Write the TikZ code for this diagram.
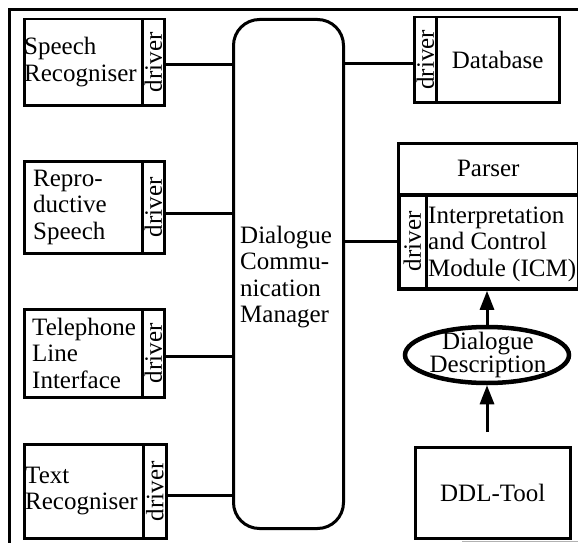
\documentclass[tikz,border=0pt]{standalone}
\usepackage{fontspec}
\setmainfont{Liberation Serif}
\usetikzlibrary{arrows.meta,calc,shapes.geometric}
\begin{document}
\begin{tikzpicture}[x=1pt,y=-1pt,
  every node/.style={font=\fontsize{25}{26.5}\selectfont},
  box/.style={draw,line width=2.5pt,anchor=north west,inner sep=0pt},
  drv/.style={draw,line width=2.5pt,anchor=north west,inner sep=0pt},
  lbl/.style={anchor=west,align=left,inner sep=0pt},
  conn/.style={line width=2.8pt},
  arr/.style={line width=3pt,-{Triangle[length=19pt,width=14pt]}}]
\useasboundingbox (0,0) rectangle (578,543);
% frame
\draw[line width=3.2pt] (9.5,543) -- (9.5,9.5) -- (578,9.5);
\draw[line width=1pt,black!30] (462,541.5) -- (578,541.5);
% left modules
\node[box,minimum width=118,minimum height=86] (sr) at (23,18) {};
\node[drv,minimum width=22,minimum height=86] (srd) at (141,18) {\rotatebox{90}{driver}};
\node[lbl] (srt) at ([xshift=1pt]sr.west) {Speech\\Recogniser};

\node[box,minimum width=118,minimum height=92] (rs) at (23,160) {};
\node[drv,minimum width=22,minimum height=92] (rsd) at (141,160) {\rotatebox{90}{driver}};
\node[lbl] (rst) at ([xshift=10pt]rs.west) {Repro-\\ductive\\Speech};

\node[box,minimum width=118,minimum height=88] (tl) at (23,308) {};
\node[drv,minimum width=22,minimum height=88] (tld) at (141,308) {\rotatebox{90}{driver}};
\node[lbl] (tlt) at ([xshift=9pt]tl.west) {Telephone\\Line\\Interface};

\node[box,minimum width=119,minimum height=94] (tr) at (23,443) {};
\node[drv,minimum width=23,minimum height=94] (trd) at (142,443) {\rotatebox{90}{driver}};
\node[lbl] (trt) at ([xshift=2pt]tr.west) {Text\\Recogniser};

% DCM
\node[draw,line width=3pt,rounded corners=26pt,anchor=north west,
      minimum width=110,minimum height=509,inner sep=0pt] (dcm) at (232,18) {};
\node[lbl] (dcmt) at ([xshift=8pt,yshift=-3pt]dcm.west) {Dialogue\\Commu-\\nication\\Manager};

% connectors left
\draw[conn] ([yshift=-2pt]srd.east) -- ([yshift=-2pt]srd.east -| dcm.west);
\draw[conn] ([yshift=-6pt]rsd.east) -- ([yshift=-6pt]rsd.east -| dcm.west);
\draw[conn] ([yshift=-3pt]tld.east) -- ([yshift=-3pt]tld.east -| dcm.west);
\draw[conn] ([yshift=-4pt]trd.east) -- ([yshift=-4pt]trd.east -| dcm.west);

% Database
\node[box,minimum width=123,minimum height=85] (db) at (435,16) {Database};
\node[drv,minimum width=22,minimum height=85] (dbd) at (413,16) {\rotatebox{90}{driver}};
\draw[conn] ([yshift=-4pt]dbd.west) -- ([yshift=-4pt]dbd.west -| dcm.east);

% Parser / ICM
\node[box,minimum width=180,minimum height=51] (ps) at (397,142) {Parser};
\node[draw,line width=3.8pt,anchor=north west,inner sep=0pt,
      minimum width=180,minimum height=94] (icm) at (397,193) {};
\node[drv,minimum width=28,minimum height=94] (icmd) at (397,193) {\rotatebox{90}{driver}};
\node[lbl] (icmt) at ([xshift=31pt,yshift=-2pt]icm.west) {Interpretation\\and Control\\Module (ICM)};
\draw[conn] (icmd.west -| dcm.east) -- (icmd.west);

% Dialogue description
\node[draw,ellipse,line width=4.5pt,minimum width=164,minimum height=56,inner sep=0pt] (dd) at (487,355) {};
\node[align=center,inner sep=0pt,font=\fontsize{25}{19}\selectfont] (ddt) at (488,355) {Dialogue\\Description};

% DDL tool
\node[box,minimum width=155,minimum height=91] (ddl) at (414,446) {DDL-Tool};
\coordinate (ddltop) at ([yshift=14pt]ddl.north);

% arrows
\draw[arr] (dd.north) -- (dd.north |- icm.south);
\draw[arr] (ddltop -| dd.south) -- (dd.south);
\end{tikzpicture}
\end{document}
